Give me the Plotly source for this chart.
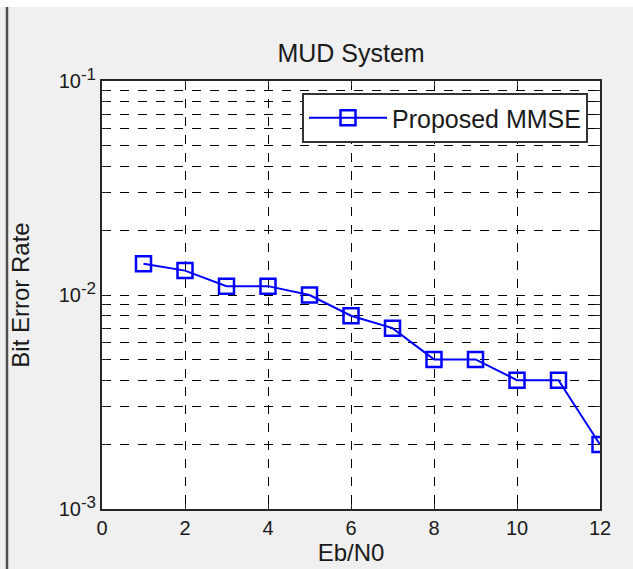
import plotly.graph_objects as go

# Data
ebn0 = [1, 2, 3, 4, 5, 6, 7, 8, 9, 10, 11, 12]
ber = [0.014, 0.013, 0.011, 0.011, 0.010, 0.008, 0.007, 0.005, 0.005, 0.004, 0.004, 0.002]
series_name = "Proposed MMSE"

x_ticks = [0, 2, 4, 6, 8, 10, 12]
y_major = [0.001, 0.01, 0.1]
y_exponents = ["-3", "-2", "-1"]
y_minor = [m * 10.0 ** e for e in (-3, -2) for m in range(2, 10)]
y_major_text = ['10<sup><span style="font-size:17px">%s</span></sup>' % e for e in y_exponents]

FONT = "Liberation Sans, Arial, sans-serif"
TXT = "#1a1a1a"

fig = go.Figure()
fig.add_trace(go.Scatter(
    x=ebn0, y=ber, name=series_name, mode="lines+markers",
    line=dict(color="#0000ff", width=2),
    marker=dict(symbol="square-open", size=15, color="#0000ff", line=dict(width=2.5, color="#0000ff")),
))

L, R, T, B = 102, 600, 81, 509
W, H = 633, 569
pw, ph = R - L, B - T

def px(x):
    return (x - L) / pw

def py(y):
    return (B - y) / ph

fig.update_layout(
    width=W, height=H,
    margin=dict(l=L, r=W - R, t=T, b=H - B, autoexpand=False),
    paper_bgcolor="#f0f0f0", plot_bgcolor="white",
    font=dict(family=FONT, size=20, color=TXT),
    title=dict(text="MUD System", x=0.5, xref="paper", xanchor="center",
               y=1 - 53 / H, yref="container", yanchor="middle",
               font=dict(size=25, color=TXT)),
    showlegend=True,
    legend=dict(x=px(588), y=py(93), xanchor="right", yanchor="top",
                bgcolor="white", bordercolor="#333333", borderwidth=2,
                font=dict(size=25, color=TXT), itemwidth=78),
    shapes=[
        dict(type="rect", xref="paper", yref="paper", x0=px(-5), x1=px(W + 5), y0=py(7), y1=py(-5),
             fillcolor="white", line=dict(width=0), layer="below"),
        dict(type="line", xref="paper", yref="paper", x0=px(7), x1=px(7), y0=py(7), y1=py(H + 5),
             line=dict(color="#505050", width=2.5)),
    ],
)

grid = dict(showgrid=True, gridcolor="black", griddash="dash", gridwidth=1)
fig.update_xaxes(
    range=[0, 12], tickvals=x_ticks, **grid,
    showline=True, linecolor="#262626", linewidth=2, mirror="ticks",
    ticks="inside", ticklen=5, tickcolor="#262626", tickwidth=1,
    zeroline=False, tickfont=dict(size=20, color=TXT),
    title=dict(text="Eb/N0", font=dict(size=24, color=TXT), standoff=3),
)
fig.update_yaxes(
    type="log", range=[-3, -1], tickvals=y_major, ticktext=y_major_text, **grid,
    minor=dict(tickvals=y_minor, ticks="inside", ticklen=5, tickcolor="#262626", tickwidth=1,
               showgrid=True, gridcolor="black", griddash="dash", gridwidth=1),
    showline=True, linecolor="#262626", linewidth=2, mirror="ticks",
    ticks="inside", ticklen=5, tickcolor="#262626", tickwidth=1,
    zeroline=False, tickfont=dict(size=20, color=TXT),
    title=dict(text="Bit Error Rate", font=dict(size=24, color=TXT), standoff=22),
)

fig.write_html("out.html", config={"displayModeBar": False},
               post_script="document.body.style.margin='0';document.body.style.overflow='hidden';")
